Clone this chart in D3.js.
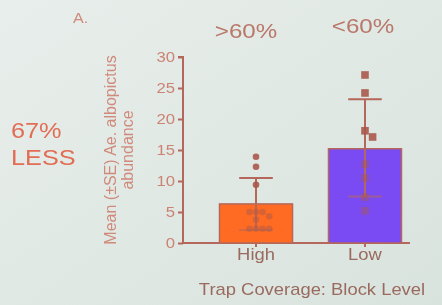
<!DOCTYPE html>
<html>
<head>
<meta charset="utf-8">
<script src="https://cdn.jsdelivr.net/npm/d3@7"></script>
<style>
  html, body { margin: 0; padding: 0; background: #e3ebe7; }
  svg { display: block; font-family: "Liberation Sans", Arial, sans-serif; filter: blur(0.5px); }
</style>
</head>
<body>
<svg id="chart" width="442" height="305"></svg>
<script>
// data
const groups = ["High", "Low"];
const groupHeads = [">60%", "<60%"];
const means = [6.3, 15.2];
const seUpper = [10.5, 23.2];
const seLower = [2.1, 7.5];
const highPoints = [13.9, 12.3, 9.4, 5.0, 5.0, 5.0, 4.3, 3.8, 2.3, 2.3, 2.3, 2.3];
const lowPoints = [27.1, 24.2, 18.1, 17.1, 12.7, 10.5, 7.4, 5.2];
const yTicks = [0, 5, 10, 15, 20, 25, 30];

const brown = "#b4675a";
const barColors = ["#ff6b22", "#7a4bf2"];
const dotColor = "#a8594a";
const wide = 1.15; // the photo of the slide is a bit stretched sideways

const svg = d3.select("#chart");

const defs = svg.append("defs");
const grad = defs.append("linearGradient").attr("id", "bg")
  .attr("x1", 0).attr("y1", 0).attr("x2", 1).attr("y2", 1);
grad.append("stop").attr("offset", 0).attr("stop-color", "#e8eeeb");
grad.append("stop").attr("offset", 1).attr("stop-color", "#d9e3de");
svg.append("rect").attr("width", 442).attr("height", 305).attr("fill", "url(#bg)");

const label = (txt, px, py, size, fill, anchor) =>
  svg.append("text")
    .attr("transform", `translate(${px},${py}) scale(${wide},1)`)
    .attr("font-size", size).attr("fill", fill)
    .attr("text-anchor", anchor || "start")
    .text(txt);

const y = d3.scaleLinear().domain([0, 30]).range([243, 57]);
const x = d3.scaleBand().domain(groups).range([183, 438]).paddingInner(0.33).paddingOuter(0.335);
const bw = x.bandwidth();

// y axis
const yAxis = svg.append("g")
  .attr("transform", "translate(183,0)")
  .call(d3.axisLeft(y).tickValues(yTicks).tickSize(5).tickPadding(2));
yAxis.select(".domain").attr("stroke", brown).attr("stroke-width", 2).attr("d", `M-5,${y(30)}H0V${y(0)}`);
yAxis.selectAll(".tick line").attr("stroke", brown).attr("stroke-width", 2);
yAxis.selectAll(".tick text").attr("fill", "#cc8373").attr("font-size", 14.5)
  .attr("font-family", "Liberation Sans, Arial, sans-serif")
  .attr("transform", `scale(${wide},1)`);

// x axis
const xAxis = svg.append("g")
  .attr("transform", `translate(0,${y(0)})`)
  .call(d3.axisBottom(x).tickSize(4).tickPadding(3));
xAxis.select(".domain").attr("stroke", brown).attr("stroke-width", 2).attr("d", "M183,0H410");
xAxis.selectAll(".tick line").attr("stroke", brown).attr("stroke-width", 2);
xAxis.selectAll(".tick text").attr("fill", "#9a6a5e").attr("font-size", 16)
  .attr("font-family", "Liberation Sans, Arial, sans-serif")
  .attr("dy", "0.62em")
  .attr("transform", `scale(${wide},1)`);

// bars
svg.selectAll(".bar")
  .data(groups)
  .join("rect")
    .attr("class", "bar")
    .attr("x", d => x(d))
    .attr("width", bw)
    .attr("y", (d, i) => y(means[i]))
    .attr("height", (d, i) => y(0) - y(means[i]))
    .attr("fill", (d, i) => barColors[i])
    .attr("stroke", brown)
    .attr("stroke-width", 1.5);

// error bars
const cap = bw * 0.46;
groups.forEach((g, i) => {
  const cx = x(g) + bw / 2;
  const eb = svg.append("g").attr("stroke", brown).attr("stroke-width", 2);
  eb.append("line").attr("x1", cx).attr("x2", cx).attr("y1", y(seLower[i])).attr("y2", y(seUpper[i]));
  eb.append("line").attr("x1", cx - cap / 2).attr("x2", cx + cap / 2).attr("y1", y(seUpper[i])).attr("y2", y(seUpper[i]));
  eb.append("line").attr("x1", cx - cap / 2).attr("x2", cx + cap / 2).attr("y1", y(seLower[i])).attr("y2", y(seLower[i]))
    .attr("stroke-opacity", 0.6);
});

// simple dodge so overlapping points sit side by side
const dodge = (vals, r, cx) => {
  const placed = [];
  return vals.map(v => {
    const py = y(v);
    let k = 0, px = cx;
    for (;;) {
      const off = (k % 2 ? 1 : -1) * Math.ceil(k / 2) * r * 2;
      px = cx + off;
      if (placed.every(p => Math.hypot(p[0] - px, p[1] - py) >= r * 1.9)) break;
      k++;
    }
    placed.push([px, py]);
    return [px, py];
  });
};

const r = 3.3;
const hc = x("High") + bw / 2;
svg.selectAll(".hdot")
  .data(dodge(highPoints, r, hc))
  .join("circle")
    .attr("class", "hdot")
    .attr("cx", d => d[0]).attr("cy", d => d[1]).attr("r", r)
    .attr("fill", dotColor).attr("fill-opacity", (d, i) => highPoints[i] > means[0] ? 0.9 : 0.45);

const lc = x("Low") + bw / 2;
svg.selectAll(".ldot")
  .data(dodge(lowPoints, r + 0.5, lc))
  .join("rect")
    .attr("class", "ldot")
    .attr("x", d => d[0] - 3.8).attr("y", d => d[1] - 3.8)
    .attr("width", 7.6).attr("height", 7.6)
    .attr("fill", dotColor).attr("fill-opacity", (d, i) => lowPoints[i] > means[1] ? 0.9 : 0.45);

// y label
const yl = svg.append("g").attr("transform", "translate(111,150) rotate(-90)")
  .attr("fill", "#d08a7c").attr("font-size", 16).attr("text-anchor", "middle");
yl.append("text").attr("y", 5).text("Mean (\u00b1SE) Ae. albopictus");
yl.append("text").attr("y", 22).text("abundance");

// headings over the bars
groupHeads.forEach((h, i) => {
  label(h, x(groups[i]) + bw / 2 + (i ? -2 : -10), i ? 33 : 38, 21, "#b9786a", "middle");
});

label("A.", 73, 23, 14, "#d08a7c");
label("67%", 11, 138, 22, "#e26d54");
label("LESS", 11, 165, 22, "#e26d54");
label("Trap Coverage: Block Level", 312, 295, 16, "#9a6a5e", "middle");
</script>
</body>
</html>
